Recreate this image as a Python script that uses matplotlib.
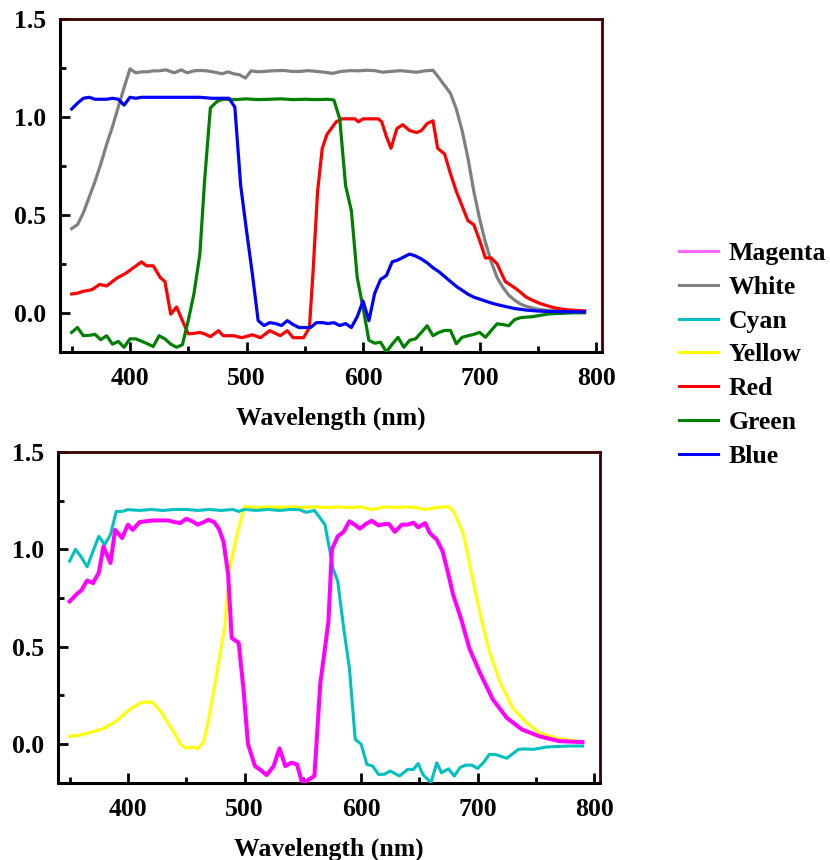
import matplotlib
matplotlib.use("Agg")
import matplotlib.pyplot as plt
from matplotlib.lines import Line2D
from matplotlib.ticker import MultipleLocator

# ---------------- data ----------------
white_w = [350,355,360,365,370,375,380,385,390,395,400,405,410,415,420,425,431,438,444,449,455,460,466,471,479,484,489,494,499,504,510,515,522,532,539,546,553,560,567,574,581,589,596,603,610,617,624,632,639,646,653,660,665,670,675,680,685,690,695,700,705,710,715,720,725,730,735,740,750,760,770,780,790]
white_v = [0.43,0.45,0.51,0.59,0.67,0.76,0.86,0.95,1.05,1.15,1.245,1.225,1.23,1.23,1.235,1.235,1.24,1.225,1.24,1.225,1.235,1.237,1.235,1.23,1.22,1.23,1.22,1.215,1.198,1.235,1.23,1.232,1.235,1.237,1.232,1.232,1.236,1.232,1.228,1.222,1.232,1.236,1.235,1.238,1.236,1.228,1.232,1.236,1.232,1.228,1.235,1.238,1.20,1.16,1.12,1.04,0.93,0.79,0.62,0.48,0.36,0.26,0.18,0.13,0.09,0.065,0.045,0.033,0.018,0.011,0.008,0.006,0.005]

blue_w = [350,355,360,365,370,375,380,385,390,395,400,405,410,420,430,440,450,460,470,480,485,490,495,500,505,510,515,520,525,530,535,540,545,550,555,560,565,570,575,580,585,590,595,600,605,610,615,620,625,630,635,640,645,650,655,660,665,670,675,680,685,690,695,700,705,710,715,720,730,740,750,760,770,780,790]
blue_v = [1.04,1.07,1.095,1.10,1.09,1.09,1.09,1.095,1.09,1.06,1.10,1.095,1.10,1.10,1.10,1.10,1.10,1.10,1.095,1.095,1.095,1.05,0.65,0.42,0.20,-0.04,-0.065,-0.05,-0.055,-0.065,-0.04,-0.06,-0.075,-0.075,-0.075,-0.05,-0.05,-0.055,-0.05,-0.065,-0.055,-0.075,-0.02,0.06,-0.04,0.10,0.17,0.19,0.26,0.27,0.285,0.30,0.29,0.275,0.255,0.23,0.21,0.185,0.16,0.135,0.115,0.095,0.08,0.07,0.06,0.05,0.042,0.035,0.022,0.014,0.009,0.007,0.006,0.005,0.005]

green_w = [350,355,360,365,370,375,380,385,390,395,400,405,410,415,420,425,430,435,440,445,450,455,460,464,469,475,480,490,500,510,520,530,540,550,560,570,575,580,585,590,595,600,605,610,615,620,625,630,635,640,645,650,655,660,665,670,675,680,685,690,695,700,705,710,715,720,725,730,735,740,745,750,760,770,780,790]
green_v = [-0.10,-0.075,-0.117,-0.115,-0.11,-0.137,-0.117,-0.16,-0.146,-0.176,-0.133,-0.133,-0.145,-0.158,-0.172,-0.117,-0.133,-0.16,-0.176,-0.163,-0.04,0.10,0.30,0.67,1.046,1.08,1.09,1.088,1.092,1.088,1.09,1.092,1.088,1.09,1.088,1.09,1.086,0.99,0.65,0.52,0.18,0.025,-0.14,-0.155,-0.15,-0.20,-0.16,-0.125,-0.176,-0.14,-0.133,-0.10,-0.066,-0.117,-0.10,-0.09,-0.09,-0.158,-0.125,-0.117,-0.11,-0.10,-0.125,-0.09,-0.056,-0.06,-0.066,-0.035,-0.025,-0.022,-0.02,-0.015,-0.005,-0.003,0.0,0.0]

red_w = [350,355,360,365,368,374,380,385,389,396,403,410,414,420,426,430,435,440,445,450,455,460,465,469,476,480,485,489,496,505,512,520,529,535,540,549,554,557,561,565,569,577,582,593,596,600,607,613,616,620,624,629,634,640,646,650,655,660,664,670,675,680,686,690,695,700,705,710,715,722,727,732,740,745,752,763,775,790]
red_v = [0.096,0.10,0.11,0.115,0.12,0.145,0.137,0.16,0.178,0.20,0.23,0.26,0.24,0.24,0.18,0.16,-0.007,0.03,-0.04,-0.107,-0.105,-0.10,-0.11,-0.122,-0.091,-0.117,-0.117,-0.117,-0.127,-0.112,-0.127,-0.091,-0.117,-0.091,-0.127,-0.127,-0.075,0.20,0.62,0.84,0.91,0.975,0.99,0.99,0.975,0.99,0.99,0.99,0.975,0.90,0.84,0.94,0.96,0.93,0.92,0.93,0.966,0.98,0.84,0.81,0.71,0.62,0.53,0.47,0.45,0.37,0.28,0.28,0.25,0.16,0.14,0.12,0.08,0.065,0.047,0.027,0.015,0.01]

cyan_w = [350,355,360,365,370,375,380,385,390,395,400,410,420,430,440,450,460,470,480,490,495,500,510,520,530,540,547,553,560,565,569,573,576,580,585,590,595,600,605,610,615,620,625,633,640,645,649,653,660,665,669,675,680,685,690,695,700,705,710,715,720,725,730,735,740,748,759,770,780,790]
cyan_v = [0.94,1.0,0.96,0.91,0.99,1.067,1.024,1.075,1.195,1.195,1.204,1.2,1.205,1.2,1.205,1.205,1.2,1.205,1.2,1.205,1.195,1.205,1.2,1.205,1.2,1.205,1.204,1.19,1.2,1.16,1.127,1.0,0.90,0.836,0.60,0.39,0.024,0.0,-0.104,-0.113,-0.156,-0.155,-0.138,-0.164,-0.13,-0.13,-0.10,-0.156,-0.198,-0.096,-0.147,-0.127,-0.164,-0.12,-0.108,-0.108,-0.125,-0.095,-0.053,-0.053,-0.063,-0.073,-0.05,-0.027,-0.025,-0.027,-0.015,-0.012,-0.01,-0.01]

magenta_w = [350,356,360,365,370,375,379,385,389,395,400,404,410,420,427,435,440,445,450,455,460,465,469,474,478,482,486,489,495,499,503,509,513,519,525,530,535,540,545,549,553,560,563,565,569,572,575,580,585,590,595,599,604,609,615,620,624,629,635,640,645,649,655,659,665,670,675,679,686,693,702,713,725,738,753,770,790]
magenta_v = [0.733,0.77,0.79,0.84,0.827,0.88,1.015,0.93,1.10,1.058,1.127,1.10,1.14,1.148,1.149,1.148,1.14,1.135,1.157,1.145,1.127,1.14,1.152,1.14,1.106,1.04,0.87,0.545,0.52,0.29,0.0,-0.113,-0.13,-0.159,-0.113,-0.022,-0.113,-0.096,-0.104,-0.19,-0.19,-0.164,0.12,0.31,0.49,0.63,1.0,1.067,1.09,1.144,1.125,1.106,1.13,1.147,1.123,1.13,1.13,1.09,1.127,1.127,1.137,1.113,1.135,1.084,1.05,0.99,0.87,0.767,0.64,0.49,0.366,0.23,0.135,0.075,0.04,0.015,0.01]

yellow_w = [350,359,367,379,389,400,410,415,420,425,429,434,439,445,450,455,460,465,469,473,479,483,487,495,500,510,520,530,540,550,560,570,580,590,600,609,620,630,640,650,655,665,675,680,688,695,703,710,719,730,742,753,768,790]
yellow_v = [0.04,0.046,0.058,0.08,0.114,0.17,0.21,0.215,0.217,0.19,0.16,0.11,0.067,0.0,-0.022,-0.015,-0.024,0.012,0.118,0.25,0.46,0.60,0.90,1.11,1.22,1.215,1.218,1.215,1.218,1.215,1.218,1.215,1.218,1.215,1.218,1.204,1.218,1.215,1.218,1.212,1.204,1.215,1.22,1.19,1.075,0.87,0.648,0.477,0.323,0.186,0.11,0.058,0.029,0.012]

legend_labels = ["Magenta", "White", "Cyan", "Yellow", "Red", "Green", "Blue"]
legend_colors = ["#ff66ff", "#808080", "#00c0c0", "#ffff00", "#ff0000", "#008000", "#0000ff"]

x_ticks = [400, 500, 600, 700, 800]
y_ticks = [0.0, 0.5, 1.0, 1.5]
x_label = "Wavelength (nm)"

# ---------------- style ----------------
plt.rcParams['font.family'] = ['Liberation Serif', 'DejaVu Serif']
plt.rcParams['font.weight'] = 'bold'
FS = 18.5

fig = plt.figure(figsize=(8.3, 8.6), dpi=100)
ax1 = fig.add_axes([0.0723, 0.5907, 0.7253 - 0.0723, 0.978 - 0.5907])
ax2 = fig.add_axes([0.0699, 0.0895, 0.7229 - 0.0699, 0.4744 - 0.0895])


def style(ax):
    ax.set_xlim(340, 805)
    ax.set_ylim(-0.2, 1.5)
    ax.set_xticks(x_ticks)
    ax.set_yticks(y_ticks)
    ax.xaxis.set_minor_locator(MultipleLocator(50))
    ax.yaxis.set_minor_locator(MultipleLocator(0.25))
    ax.set_xticklabels([str(t) for t in x_ticks], fontsize=FS, fontweight='bold')
    ax.set_yticklabels(["%.1f" % t for t in y_ticks], fontsize=FS, fontweight='bold')
    ax.tick_params(axis='x', which='major', pad=11)
    ax.tick_params(axis='y', which='major', pad=10)
    ax.tick_params(which='major', direction='in', length=7, width=2,
                   top=False, right=False, color='black')
    ax.tick_params(which='minor', direction='in', length=4, width=2,
                   top=False, right=False, color='black')
    for s in ['left', 'bottom']:
        ax.spines[s].set_linewidth(2.2)
        ax.spines[s].set_color('black')
    for s in ['top', 'right']:
        ax.spines[s].set_linewidth(2.0)
        ax.spines[s].set_color('#3a0000')
    ax.set_xlabel(x_label, fontsize=FS, fontweight='bold', labelpad=12)


ax1.plot(white_w, white_v, color='#808080', lw=2.3, zorder=2)
ax1.plot(red_w, red_v, color='#ff0000', lw=2.3, zorder=3)
ax1.plot(green_w, green_v, color='#008000', lw=2.3, zorder=4)
ax1.plot(blue_w, blue_v, color='#0000ff', lw=2.3, zorder=5)
style(ax1)

ax2.plot(yellow_w, yellow_v, color='#ffff00', lw=2.2, zorder=2)
ax2.plot(cyan_w, cyan_v, color='#00c0c0', lw=2.2, zorder=3)
ax2.plot(magenta_w, magenta_v, color='#ff00ff', lw=2.9, zorder=4)
style(ax2)

handles = [Line2D([0], [0], color=c, lw=2.2) for c in legend_colors]
fig.legend(handles, legend_labels, loc='upper left', bbox_to_anchor=(0.818, 0.7185),
           frameon=False, prop={'weight': 'bold', 'size': FS},
           handlelength=1.52, handletextpad=0.4, labelspacing=0.42,
           borderpad=0, borderaxespad=0)

fig.savefig("out.png", dpi=100)
